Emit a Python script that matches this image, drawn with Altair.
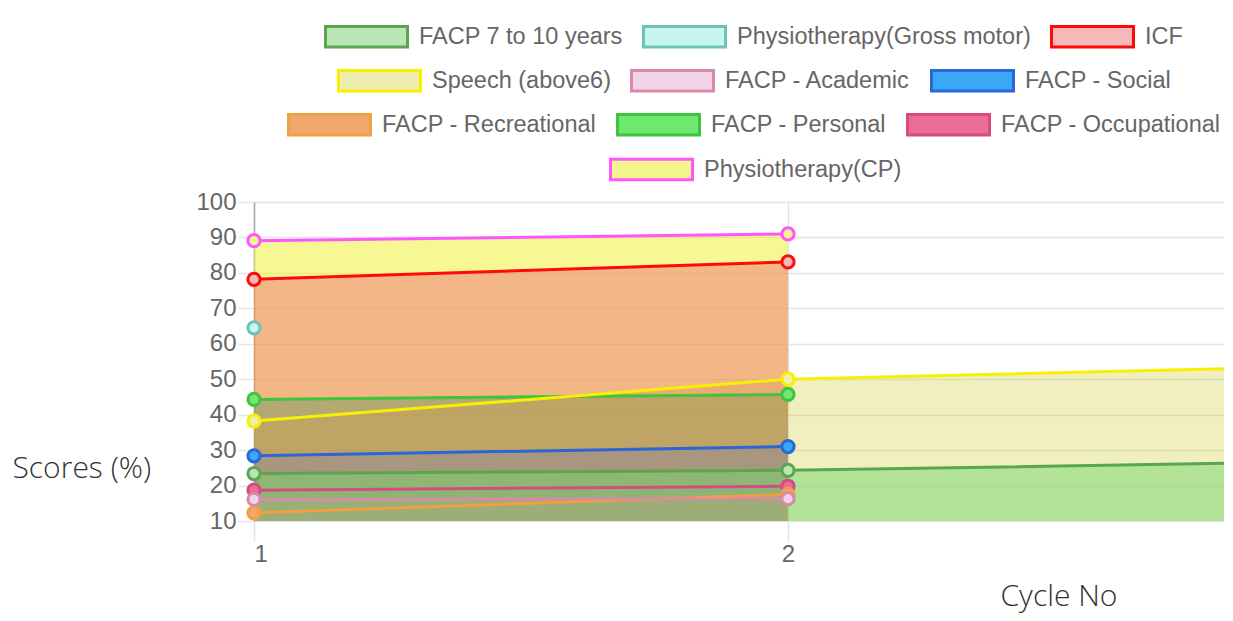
import altair as alt
import pandas as pd

# ---- data ----
series = ["FACP 7 to 10 years", "Physiotherapy(Gross motor)", "ICF",
          "Speech (above6)", "FACP - Academic", "FACP - Social",
          "FACP - Recreational", "FACP - Personal", "FACP - Occupational",
          "Physiotherapy(CP)"]
cycles = [1, 2, 3]
cycle1 = [23.4, 64.5, 78.2, 38.2, 16.1, 28.4, 12.3, 44.3, 18.7, 89.1]
cycle2 = [24.3, None, 83.1, 50.0, 16.3, 31.0, 17.5, 45.7, 19.8, 91.0]
cycle3 = [26.7, None, None, 53.6, None, None, None, None, None, None]

stroke_colors = ["#5aa64d", "#6cc3b6", "#ff0a0a", "#f7f000", "#d98aa5",
                 "#2a66d6", "#f0a040", "#3ec43e", "#d64c82", "#ff55ff"]
# fill of legend boxes and point markers
box_colors = ["#b9e6b4", "#c8f5f0", "#f5b9b9", "#eeeeb0", "#f2d2e8",
              "#3aa8f5", "#eea86e", "#6ee86e", "#ec6e96", "#f5f590"]
# translucent area fills
area_colors = ["rgba(115,215,110,0.5)", "rgba(120,225,210,0.35)",
               "rgba(235,60,110,0.35)", "rgba(205,203,45,0.3)",
               "rgba(225,140,200,0.4)", "rgba(40,160,245,0.45)",
               "rgba(235,145,75,0.45)", "rgba(60,210,90,0.5)",
               "rgba(230,80,135,0.4)", "rgba(240,240,60,0.55)"]
legend_rows = [[0, 1, 2], [3, 4, 5], [6, 7, 8], [9]]

records = []
for i, name in enumerate(series):
    for c, vals in zip(cycles, [cycle1, cycle2, cycle3]):
        if vals[i] is not None:
            records.append({"series": name, "cycle": c, "value": vals[i]})
df = pd.DataFrame(records)

# ---- styling ----
FONT = "Liberation Sans"
GRID = "#e4e4e4"
xscale = alt.Scale(domain=[1, 1 + 970 / 534], nice=False, zero=False)
yscale = alt.Scale(domain=[10, 100], nice=False, zero=False)
xaxis = alt.Axis(values=[1, 2], format="d", title="Cycle No", grid=True,
                 gridColor=GRID, gridWidth=1.5, domain=False,
                 tickSize=20, tickColor=GRID, tickWidth=1.5,
                 labelFont=FONT, labelFontSize=24, labelColor="#666",
                 labelPadding=1, titleFont="Open Sans", titleFontSize=30,
                 titleFontWeight=300, titleColor="#333", titleAlign="left",
                 titleBaseline="alphabetic", titleX=746, titleY=84)
yaxis = alt.Axis(values=list(range(10, 101, 10)), title="Scores (%)",
                 grid=True, gridColor=GRID, gridWidth=1.5,
                 domain=True, domainColor="#a8a8a8", domainWidth=1.5,
                 tickSize=16, tickColor=GRID, tickWidth=1.5,
                 labelFont=FONT, labelFontSize=24, labelColor="#666",
                 labelPadding=2, titleFont="Open Sans", titleFontSize=30,
                 titleFontWeight=300, titleColor="#333", titleAngle=0,
                 titleAlign="left", titleBaseline="alphabetic",
                 titleX=-242, titleY=275)

X = alt.X("cycle:Q", scale=xscale, axis=xaxis)
Y = alt.Y("value:Q", scale=yscale, axis=yaxis)

legend_pos = [(70, -208), (83, -164), (33, -120), (355, -75)]


def scale_for(row, colors):
    return alt.Scale(domain=[series[i] for i in row],
                     range=[colors[i] for i in row])


def make_legend(r):
    lx, ly = legend_pos[r]
    return alt.Legend(title=None, orient="none", legendX=lx, legendY=ly,
                      direction="horizontal",
                      symbolType="M-1,-0.25H1V0.25H-1Z", symbolSize=6724,
                      symbolStrokeWidth=3, symbolOpacity=1,
                      labelFont=FONT, labelFontSize=23.5, labelColor="#666",
                      labelOffset=10, columnPadding=14, labelLimit=500)


area_layers = []
line_layers = []
for r in reversed(range(len(legend_rows))):
    row = legend_rows[r]
    fa = scale_for(row, area_colors)
    fb = scale_for(row, box_colors)
    ss = scale_for(row, stroke_colors)
    areas = []
    lines = []
    for i in reversed(row):
        base = alt.Chart(df).transform_filter(alt.datum.series == series[i])
        areas.append(base.mark_area(clip=True).encode(
            x=X, y=Y, y2=alt.datum(10),
            fill=alt.Fill("series:N", scale=fa, legend=None)))
        lg = make_legend(r)
        lines.append(base.mark_line(clip=True, strokeWidth=3).encode(
            x=X, y=Y, stroke=alt.Stroke("series:N", scale=ss, legend=lg)))
        lines.append(base.mark_point(filled=True, size=150,
                                     strokeWidth=3, opacity=1).encode(
            x=X, y=Y,
            fill=alt.Fill("series:N", scale=fb, legend=lg),
            stroke=alt.Stroke("series:N", scale=ss, legend=lg)))
    area_layers.append(alt.layer(*areas))
    line_layers.append(alt.layer(*lines))

chart = alt.layer(*area_layers, *line_layers).resolve_scale(
    fill="independent", stroke="independent"
).properties(
    width=970, height=319,
    autosize=alt.AutoSizeParams(type="none"),
    padding={"left": 246, "top": 194, "right": 0, "bottom": 92},
).configure_view(stroke=None)

chart.save("out.html", embed_options={"renderer": "svg", "actions": False})
